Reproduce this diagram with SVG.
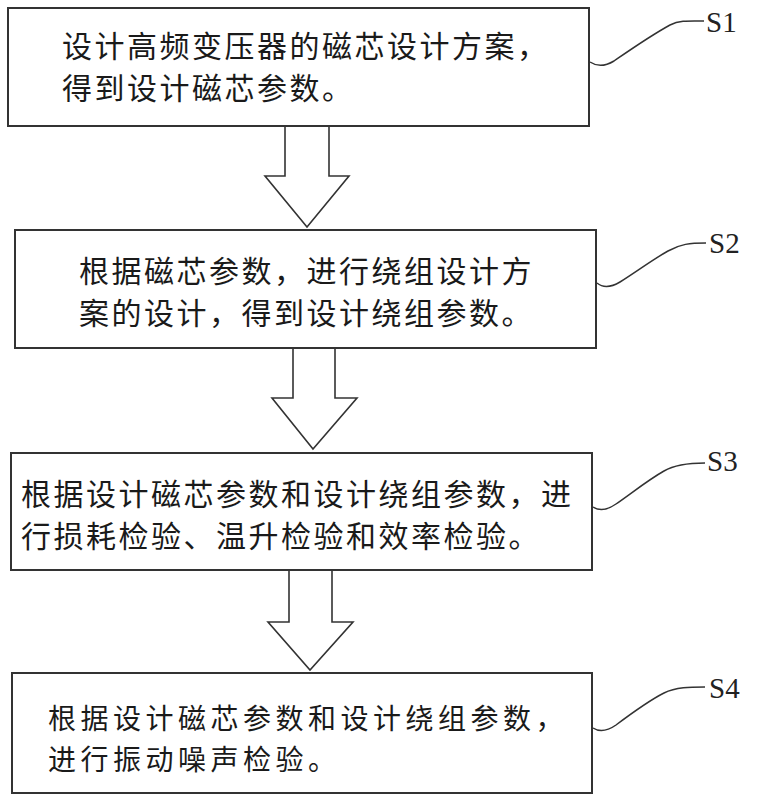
<svg xmlns="http://www.w3.org/2000/svg" width="759" height="800" viewBox="0 0 759 800">
<style>
.box{fill:#fff;stroke:#333;stroke-width:2}
.t{font-family:"Noto Sans CJK SC",sans-serif;font-size:30px;letter-spacing:2.5px;fill:#1a1a1a}
.t4{font-size:28px;letter-spacing:4.5px}
.lbl{font-family:"Liberation Serif",serif;font-size:29px;fill:#222}
.arr{fill:#fff;stroke:#333;stroke-width:1.6;stroke-linejoin:miter}
.ld{fill:none;stroke:#333;stroke-width:1.5}
</style>
<rect width="759" height="800" fill="#fff"/>
<g id="connectors">
<path class="arr" d="M285,126 V176 H265 L307,227 L349,176 H329 V126"/>
<path class="arr" d="M293,348 V398 H272 L313,449 L357,398 H335 V348"/>
<path class="arr" d="M289,570 V622 H268 L310,670 L353,622 H332 V570"/>
<path class="ld" d="M590,62 C596,66 604,67 614,61 C630,50 650,36 670,25 C680,20 690,21 704,21"/>
<path class="ld" d="M597,283 C603,288 610,288 620,282 C636,272 652,260 668,251 C680,244 690,243 706,243"/>
<path class="ld" d="M593,507 C599,511 606,511 616,504 C632,493 648,480 664,471 C676,464 690,463 705,463"/>
<path class="ld" d="M593,728 C599,732 606,732 616,725 C632,713 648,701 664,693 C676,687 690,687 705,687"/>
</g>
<g id="s1">
<rect class="box" x="8" y="8" width="581" height="118"/>
<text class="t" x="62" y="57">设计高频变压器的磁芯设计方案，</text>
<text class="t" x="62" y="99">得到设计磁芯参数。</text>
<text class="lbl" x="706" y="32">S1</text>
</g>
<g id="s2">
<rect class="box" x="15" y="230" width="581" height="118"/>
<text class="t" x="79" y="282">根据磁芯参数，进行绕组设计方</text>
<text class="t" x="79" y="324">案的设计，得到设计绕组参数。</text>
<text class="lbl" x="709" y="253">S2</text>
</g>
<g id="s3">
<rect class="box" x="11" y="453" width="581" height="117"/>
<text class="t" x="21" y="505">根据设计磁芯参数和设计绕组参数，进</text>
<text class="t" x="21" y="547">行损耗检验、温升检验和效率检验。</text>
<text class="lbl" x="707" y="471">S3</text>
</g>
<g id="s4">
<rect class="box" x="12" y="673" width="580" height="120"/>
<text class="t t4" x="48" y="729">根据设计磁芯参数和设计绕组参数，</text>
<text class="t t4" x="48" y="770">进行振动噪声检验。</text>
<text class="lbl" x="709" y="698">S4</text>
</g>
</svg>
